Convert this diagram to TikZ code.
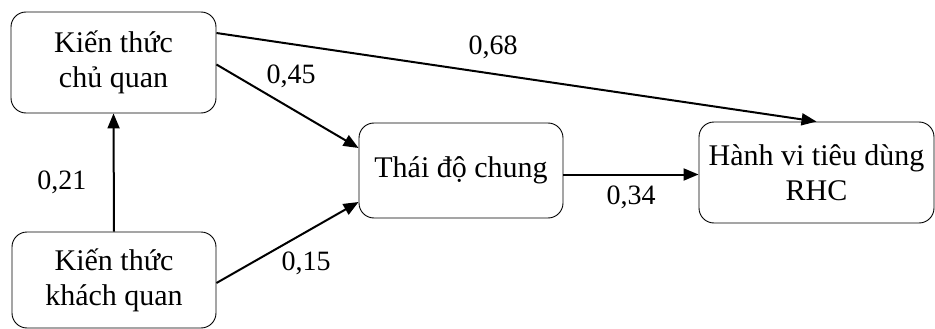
\documentclass[tikz,border=0pt]{standalone}
\usepackage{fontspec}
\setmainfont{Liberation Serif}
\usetikzlibrary{arrows.meta,calc}
\begin{document}
\begin{tikzpicture}[x=1pt,y=-1pt,
  box/.style={draw,line width=0.9pt,rounded corners=15pt,align=center,
    font=\fontsize{30}{35}\selectfont,inner sep=0pt},
  conn/.style={line width=2pt,-{Triangle[length=15pt,width=12pt]}},
  lbl/.style={font=\fontsize{28}{32}\selectfont,inner sep=0pt}]
\useasboundingbox (0,0) rectangle (935,329);
\node[box,minimum width=205pt,minimum height=101pt] (b1) at (113.5,62.5) {Kiến thức\\chủ quan};
\node[box,minimum width=204pt,minimum height=96pt] (b2) at (114,280) {Kiến thức\\khách quan};
\node[box,minimum width=204pt,minimum height=95pt] (b3) at (461,170.5) {Thái độ chung};
\node[box,minimum width=235pt,minimum height=101pt] (b4) at (816.5,172.5) {Hành vi tiêu dùng\\RHC};
\draw[conn] (b2.north) -- (b1.south);
\draw[conn] ($(b1.east)+(0,-29.5)$) -- (b4.north);
\draw[conn] ($(b1.east)+(0,2)$) -- ($(b3.west)+(0,-22.5)$);
\draw[conn] ($(b2.east)+(0,3)$) -- ($(b3.west)+(0,31.5)$);
\draw[conn] ($(b3.east)+(0,4)$) -- ($(b4.west)+(0,2)$);
\node[lbl] (l1) at (493,47) {0,68};
\node[lbl] (l2) at (291,76) {0,45};
\node[lbl] (l3) at (62,182) {0,21};
\node[lbl] (l4) at (306,263) {0,15};
\node[lbl] (l5) at (631,197) {0,34};
\end{tikzpicture}
\end{document}
